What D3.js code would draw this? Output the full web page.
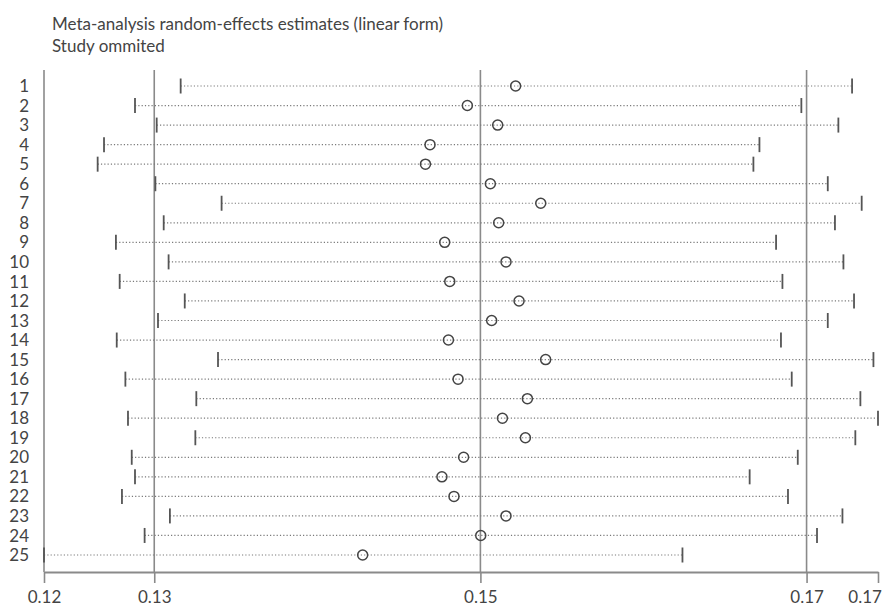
<!DOCTYPE html>
<html>
<head>
<meta charset="utf-8">
<script src="https://cdn.jsdelivr.net/npm/d3@7"></script>
<style>
    body { margin: 0; background: #fff; }
    text { font-family: Lato, "Open Sans", sans-serif; fill: #444; }
</style>
</head>
<body>
<script>
const canvWidth = 893, canvHeight = 609;

// study omitted, estimate and 95% CI bounds
const studies = d3.range(1, 26).map(String);
const estimate = [0.15216, 0.14920, 0.15106, 0.14691, 0.14663, 0.15061, 0.15370, 0.15112, 0.14781, 0.15157,
    0.14812, 0.15237, 0.15069, 0.14804, 0.15400, 0.14863, 0.15288, 0.15135, 0.15276, 0.14897,
    0.14764, 0.14838, 0.15157, 0.15002, 0.14278];
const lower = [0.13162, 0.12882, 0.13015, 0.12692, 0.12653, 0.13007, 0.13413, 0.13058, 0.12765, 0.13088,
    0.12788, 0.13187, 0.13023, 0.12770, 0.13391, 0.12823, 0.13258, 0.12839, 0.13252, 0.12862,
    0.12882, 0.12802, 0.13096, 0.12941, 0.12324];
const upper = [0.17279, 0.16968, 0.17195, 0.16711, 0.16674, 0.17130, 0.17338, 0.17174, 0.16813, 0.17226,
    0.16852, 0.17291, 0.17130, 0.16843, 0.17410, 0.16909, 0.17330, 0.17438, 0.17299, 0.16946,
    0.16651, 0.16886, 0.17220, 0.17064, 0.16239];
// overall estimate with its CI (reference lines)
const overall = [0.1300, 0.1500, 0.1700];

const rows = studies.map((s, i) => ({study: s, est: estimate[i], lo: lower[i], hi: upper[i]}));

const svg = d3.select("body").append("svg")
    .attr("width", canvWidth)
    .attr("height", canvHeight);

const xMin = d3.min(lower), xMax = d3.max(upper);
const xScale = d3.scaleLinear().domain([xMin, xMax]).range([44, 878]);
const yScale = d3.scalePoint().domain(studies).range([86, 555]);
const plotTop = 70, plotBottom = 572;

// titles
svg.append("text")
    .attr("x", 52)
    .attr("y", 29.5)
    .attr("font-size", "17px")
    .text("Meta-analysis random-effects estimates (linear form)");

svg.append("text")
    .attr("x", 52)
    .attr("y", 51.5)
    .attr("font-size", "17px")
    .text("Study ommited");

// y axis line + reference lines
svg.append("line")
    .attr("x1", xScale(xMin)).attr("x2", xScale(xMin))
    .attr("y1", plotTop).attr("y2", plotBottom)
    .attr("stroke", "#8a8a8a")
    .attr("stroke-width", 1.6);

svg.append("g")
    .selectAll("line")
    .data(overall)
    .enter().append("line")
    .attr("x1", d => xScale(d)).attr("x2", d => xScale(d))
    .attr("y1", plotTop).attr("y2", plotBottom)
    .attr("stroke", "#8a8a8a")
    .attr("stroke-width", 1.6);

// x axis
const xAxis = d3.axisBottom(xScale)
    .tickValues([xMin, overall[0], overall[1], overall[2], xMax])
    .tickFormat(d3.format(".2f"))
    .tickSizeInner(11)
    .tickSizeOuter(0)
    .tickPadding(8);

const gx = svg.append("g")
    .attr("transform", `translate(0,${plotBottom})`)
    .call(xAxis);
gx.select(".domain").attr("stroke", "#8a8a8a").attr("stroke-width", 2);
gx.selectAll(".tick line").attr("stroke", "#8a8a8a").attr("stroke-width", 1.6);
gx.selectAll(".tick text")
    .attr("font-family", "Lato, 'Open Sans', sans-serif")
    .attr("font-size", "17px")
    .attr("fill", "#444");
// last label would run off the right edge
gx.selectAll(".tick text")
    .filter(d => d === xMax)
    .attr("text-anchor", "end")
    .attr("dx", "0.2em");

// row labels
svg.append("g")
    .selectAll("text")
    .data(rows)
    .enter().append("text")
    .attr("x", 29)
    .attr("y", d => yScale(d.study))
    .attr("dy", "0.36em")
    .attr("font-size", "17px")
    .style("text-anchor", "end")
    .text(d => d.study);

const marks = svg.append("g").attr("id", "dataPoints");

// dotted CI lines
marks.selectAll(".ci")
    .data(rows)
    .enter().append("line")
    .attr("class", "ci")
    .attr("x1", d => xScale(d.lo))
    .attr("x2", d => xScale(d.hi))
    .attr("y1", d => yScale(d.study))
    .attr("y2", d => yScale(d.study))
    .attr("stroke", "#7a7a7a")
    .attr("stroke-width", 1.2)
    .attr("stroke-dasharray", "1.2 2.1");

// end caps
["lo", "hi"].forEach(k => {
    marks.selectAll(".cap-" + k)
        .data(rows)
        .enter().append("line")
        .attr("class", "cap-" + k)
        .attr("x1", d => xScale(d[k]))
        .attr("x2", d => xScale(d[k]))
        .attr("y1", d => yScale(d.study) - 7.5)
        .attr("y2", d => yScale(d.study) + 7.5)
        .attr("stroke", "#555")
        .attr("stroke-width", 1.8);
});

// estimates
marks.selectAll("circle")
    .data(rows)
    .enter().append("circle")
    .attr("cx", d => xScale(d.est))
    .attr("cy", d => yScale(d.study))
    .attr("r", 5)
    .attr("fill", "none")
    .attr("stroke", "#444")
    .attr("stroke-width", 1.5);
</script>
</body>
</html>
